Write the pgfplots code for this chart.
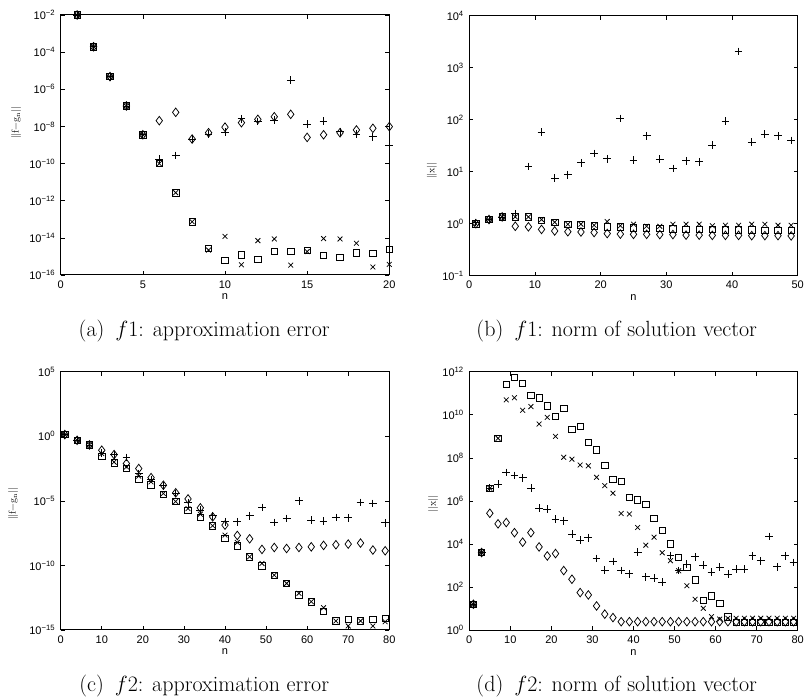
\RequirePackage{fix-cm}
\documentclass[border=0pt]{standalone}
\usepackage{fontspec}
\usepackage{pgfplots}
\pgfplotsset{compat=1.18}
\newfontfamily\arial{Liberation Sans}
\newcommand\tickfont{\arial\fontsize{11}{13}\selectfont}
\newcommand\tp[1]{10\textsuperscript{#1}}

\pgfplotsset{
  every axis/.append style={
    scale only axis, clip=false,
    axis line style={line width=1pt},
    every tick/.style={black, line width=0.6pt},
    major tick length=4pt,
    yminorticks=false, xminorticks=false,
    tick label style={font=\tickfont},
    xticklabel shift=2pt, yticklabel shift=2pt,
    label style={font=\tickfont},
    xlabel={n},
  },
  every axis x label/.style={at={(axis description cs:0.5,0)}, anchor=base, yshift=-25pt},
  markdiam/.style={only marks, black, mark=diamond, mark size=4.3pt, mark options={line width=0.75pt, solid, fill=none}},
  markplus/.style={only marks, black, mark=+, mark size=3.9pt, mark options={line width=0.75pt, solid}},
  markcross/.style={only marks, black, mark=x, mark size=3.4pt, mark options={line width=0.75pt, solid}},
  marksquare/.style={only marks, black, mark=square, mark size=3.2pt, mark options={line width=0.75pt, solid, fill=none}},
}

\begin{document}
\begin{tikzpicture}
\useasboundingbox (0pt,0pt) rectangle (806pt,700pt);

% (a) f1: approximation error
\begin{axis}[ymode=log,
  at={(60.7pt,425pt)}, anchor=south west, width=328.6pt, height=260pt,
  xmin=0, xmax=20, ymin=1e-16, ymax=1e-2,
  xtick={0,5,10,15,20},
  ytick={1e-16,1e-14,1e-12,1e-10,1e-8,1e-6,1e-4,1e-2},
  yticklabels={\tp{−16},\tp{−14},\tp{−12},\tp{−10},\tp{−8},\tp{−6},\tp{−4},\tp{−2}},
  ylabel={||f−g\textsubscript{n}||},
  every axis y label/.style={at={(axis description cs:-0.136,0.585)}, rotate=90, anchor=center},
  /pgf/number format/assume math mode=true]
\addplot[markdiam] coordinates {(1,1e-2)(2,1.95e-4)(3,4.79e-6)(4,1.26e-7)(5,3.55e-9)
  (6,2.04e-8)(7,5.75e-8)(8,2.09e-9)(9,4.57e-9)(10,9.12e-9)(11,1.58e-8)(12,2.40e-8)
  (13,3.31e-8)(14,4.47e-8)(15,2.57e-9)(16,3.55e-9)(17,4.57e-9)(18,6.46e-9)(19,7.94e-9)(20,9.77e-9)};
\addplot[markplus] coordinates {(1,1e-2)(2,1.95e-4)(3,4.79e-6)(4,1.26e-7)(5,3.55e-9)
  (6,1.70e-10)(7,2.75e-10)(8,2.09e-9)(9,3.89e-9)(10,5.01e-9)(11,2.57e-8)(12,1.86e-8)
  (13,2.19e-8)(14,3.02e-6)(15,1.29e-8)(16,1.95e-8)(17,5.25e-9)(18,3.89e-9)(19,2.82e-9)(20,9.55e-10)};
\addplot[markcross] coordinates {(1,1e-2)(2,1.95e-4)(3,4.79e-6)(4,1.26e-7)(5,3.55e-9)
  (6,1.0e-10)(7,2.69e-12)(8,7.41e-14)(9,2.19e-15)(10,1.20e-14)(11,3.55e-16)(12,7.08e-15)
  (13,8.71e-15)(14,3.39e-16)(15,1.82e-15)(16,9.12e-15)(17,8.71e-15)(18,5.13e-15)(19,2.69e-16)(20,3.72e-16)};
\addplot[marksquare] coordinates {(1,1e-2)(2,1.95e-4)(3,4.79e-6)(4,1.26e-7)(5,3.55e-9)
  (6,1.0e-10)(7,2.69e-12)(8,7.41e-14)(9,2.69e-15)(10,6.03e-16)(11,1.20e-15)(12,7.08e-16)
  (13,1.86e-15)(14,1.82e-15)(15,2.04e-15)(16,1.15e-15)(17,8.91e-16)(18,1.58e-15)(19,1.45e-15)(20,2.34e-15)};
\end{axis}

% (b) f1: norm of solution vector
\begin{axis}[ymode=log,
  at={(469.3pt,424.3pt)}, anchor=south west, width=328.4pt, height=260pt,
  xmin=0, xmax=50, ymin=1e-1, ymax=1e4,
  xtick={0,10,20,30,40,50},
  ytick={1e-1,1,1e1,1e2,1e3,1e4},
  yticklabels={\tp{−1},\tp{0},\tp{1},\tp{2},\tp{3},\tp{4}},
  ylabel={||x||},
  every axis y label/.style={at={(axis description cs:-0.1136,0.404)}, rotate=90, anchor=center},
  /pgf/number format/assume math mode=true]
\addplot[markdiam] coordinates {(1,1.0)(3,1.20)(5,1.35)(7,0.891)(9,0.871)(11,0.776)(13,0.724)
  (15,0.700)(17,0.692)(19,0.676)(21,0.646)(23,0.631)(25,0.624)(27,0.624)(29,0.617)
  (31,0.617)(33,0.603)(35,0.603)(37,0.596)(39,0.596)(41,0.596)(43,0.589)(45,0.589)(47,0.589)(49,0.582)};
\addplot[markplus] coordinates {(1,1.05)(3,1.20)(5,1.35)(7,1.55)(9,12.6)(11,57.5)(13,7.59)
  (15,8.71)(17,14.8)(19,22.4)(21,17.8)(23,105)(25,16.6)(27,49.0)(29,17.4)
  (31,11.5)(33,16.2)(35,15.5)(37,32.4)(39,93.3)(41,2040)(43,37.2)(45,52.5)(47,49.0)(49,39.8)};
\addplot[markcross] coordinates {(1,1.0)(3,1.20)(5,1.35)(7,1.35)(9,1.35)(11,1.20)(13,1.07)
  (15,0.977)(17,0.977)(19,0.933)(21,1.10)(23,0.912)(25,0.977)(27,0.891)(29,0.891)
  (31,0.977)(33,0.977)(35,0.977)(37,0.912)(39,0.933)(41,0.933)(43,0.977)(45,0.977)(47,0.933)(49,0.933)};
\addplot[marksquare] coordinates {(1,1.0)(3,1.20)(5,1.35)(7,1.35)(9,1.35)(11,1.17)(13,1.05)
  (15,0.977)(17,0.955)(19,0.912)(21,0.871)(23,0.871)(25,0.832)(27,0.832)(29,0.813)
  (31,0.794)(33,0.776)(35,0.776)(37,0.776)(39,0.759)(41,0.759)(43,0.759)(45,0.741)(47,0.741)(49,0.741)};
\end{axis}

% (c) f2: approximation error
\begin{axis}[ymode=log,
  at={(60.7pt,70pt)}, anchor=south west, width=328.6pt, height=258.3pt,
  xmin=0, xmax=80, ymin=1e-15, ymax=1e5,
  xtick={0,10,20,30,40,50,60,70,80},
  ytick={1e-15,1e-10,1e-5,1,1e5},
  yticklabels={\tp{−15},\tp{−10},\tp{−5},\tp{0},\tp{5}},
  ylabel={||f−g\textsubscript{n}||},
  every axis y label/.style={at={(axis description cs:-0.145,0.488)}, rotate=90, anchor=center},
  /pgf/number format/assume math mode=true]
\addplot[markdiam] coordinates {(1,1.35)(4,0.490)(7,0.214)(10,8.32e-2)(13,3.80e-2)(16,7.76e-3)
  (19,3.16e-3)(22,6.31e-4)(25,1.62e-4)(28,4.17e-5)(31,1.41e-5)(34,2.88e-6)(37,5.75e-7)
  (40,1.32e-7)(43,2.09e-8)(46,1.15e-8)(49,1.74e-9)(52,2.45e-9)(55,2.04e-9)(58,2.45e-9)
  (61,2.75e-9)(64,3.55e-9)(67,3.98e-9)(70,4.47e-9)(73,5.37e-9)(76,1.55e-9)(79,1.35e-9)};
\addplot[markplus] coordinates {(1,1.35)(4,0.490)(7,0.214)(10,5.13e-2)(13,3.63e-2)(16,2.24e-2)
  (19,1.29e-3)(22,4.47e-4)(25,1.45e-4)(28,3.72e-5)(31,7.08e-6)(34,1.91e-6)(37,6.92e-7)
  (40,2.40e-7)(43,2.40e-7)(46,6.92e-7)(49,3.02e-6)(52,2.09e-7)(55,4.27e-7)(58,1.0e-5)
  (61,3.24e-7)(64,2.69e-7)(67,5.13e-7)(70,4.90e-7)(73,7.41e-6)(76,6.17e-6)(79,2.00e-7)};
\addplot[markcross] coordinates {(1,1.35)(4,0.490)(7,0.214)(10,4.57e-2)(13,1.0e-2)(16,4.27e-3)
  (19,8.13e-4)(22,2.95e-4)(25,3.72e-5)(28,8.91e-6)(31,2.51e-6)(34,9.33e-7)(37,1.17e-7)
  (40,2.24e-8)(43,6.03e-9)(46,4.68e-10)(49,1.41e-10)(52,1.78e-11)(55,4.07e-12)(58,6.92e-13)
  (61,1.55e-13)(64,5.37e-14)(67,5.01e-15)(70,2.04e-15)(73,5.01e-15)(76,2.04e-15)(79,4.37e-15)};
\addplot[marksquare] coordinates {(1,1.35)(4,0.490)(7,0.214)(10,2.82e-2)(13,8.71e-3)(16,3.16e-3)
  (19,4.47e-4)(22,1.74e-4)(25,3.09e-5)(28,8.91e-6)(31,1.91e-6)(34,5.13e-7)(37,1.17e-7)
  (40,1.23e-8)(43,3.31e-9)(46,4.68e-10)(49,9.33e-11)(52,1.78e-11)(55,4.07e-12)(58,5.37e-13)
  (61,1.55e-13)(64,2.63e-14)(67,5.01e-15)(70,6.61e-15)(73,5.01e-15)(76,6.61e-15)(79,7.94e-15)};
\end{axis}

% (d) f2: norm of solution vector
\begin{axis}[ymode=log,
  at={(469.3pt,69.7pt)}, anchor=south west, width=328.4pt, height=258.6pt,
  xmin=0, xmax=80, ymin=1, ymax=1e12,
  xtick={0,10,20,30,40,50,60,70,80},
  ytick={1,1e2,1e4,1e6,1e8,1e10,1e12},
  yticklabels={\tp{0},\tp{2},\tp{4},\tp{6},\tp{8},\tp{10},\tp{12}},
  ylabel={||x||},
  every axis y label/.style={at={(axis description cs:-0.11,0.488)}, rotate=90, anchor=center},
  /pgf/number format/assume math mode=true]
\addplot[markdiam] coordinates {(1,16.2)(3,4070)(5,2.69e5)(7,8.71e4)(9,1.0e5)(11,3.39e4)(13,1.23e4)
  (15,3.39e4)(17,7.41e3)(19,2.82e3)(21,3.63e3)(23,589)(25,234)(27,56.2)(29,43.7)(31,13.5)
  (33,5.62)(35,3.89)(37,2.51)(39,2.51)(41,2.51)(43,2.51)(45,2.51)(47,2.51)(49,2.51)(51,2.51)
  (53,2.51)(55,2.51)(57,2.51)(59,2.51)(61,2.51)(63,2.51)(65,2.51)(67,2.51)(69,2.51)(71,2.51)
  (73,2.51)(75,2.51)(77,2.51)(79,2.51)};
\addplot[markplus] coordinates {(1,16.2)(3,4070)(5,3.89e6)(7,6.03e6)(9,2.09e7)(11,1.51e7)(13,1.20e7)
  (15,3.89e6)(17,4.57e5)(19,4.17e5)(21,1.41e5)(23,1.23e5)(25,2.88e4)(27,1.55e4)(29,2.00e4)
  (31,2.14e3)(33,631)(35,1.55e3)(37,589)(39,417)(41,4.17e3)(43,302)(45,257)(47,170)
  (49,2.95e3)(51,589)(53,1.17e3)(55,2.57e3)(57,1.07e3)(59,490)(61,832)(63,398)(65,676)
  (67,676)(69,2.88e3)(71,1.70e3)(73,2.24e4)(75,891)(77,2.88e3)(79,1.41e3)};
\addplot[markcross] coordinates {(1,16.2)(3,4070)(5,3.89e6)(7,8.13e8)(9,4.90e10)(11,6.17e10)(13,1.62e10)
  (15,2.40e10)(17,3.72e9)(19,7.59e9)(21,1.0e9)(23,1.07e8)(25,8.71e7)(27,4.68e7)(29,4.27e7)
  (31,1.26e7)(33,5.13e6)(35,2.29e6)(37,2.63e5)(39,2.51e5)(41,5.89e4)(43,8.91e3)(45,2.09e4)
  (47,3.98e3)(49,1.70e3)(51,575)(53,117)(55,27.5)(57,10.5)(59,4.27)(61,3.31)(63,3.63)
  (65,3.63)(67,3.63)(69,3.63)(71,3.63)(73,3.63)(75,3.63)(77,3.63)(79,3.63)};
\addplot[marksquare] coordinates {(1,16.2)(3,4070)(5,3.89e6)(7,8.13e8)(9,2.57e11)(11,5.62e11)(13,2.95e11)
  (15,7.76e10)(17,6.17e10)(19,2.63e10)(21,8.71e9)(23,2.00e10)(25,2.14e9)(27,2.95e9)(29,5.13e8)
  (31,2.34e8)(33,4.57e7)(35,1.02e7)(37,8.13e6)(39,1.48e6)(41,1.12e6)(43,6.76e5)(45,1.58e5)
  (47,4.37e4)(49,1.02e4)(51,2.40e3)(53,832)(55,214)(57,25.1)(59,38.9)(61,17.8)(63,4.27)
  (65,2.29)(67,2.29)(69,2.29)(71,2.29)(73,2.29)(75,2.29)(77,2.29)(79,2.29)};
\end{axis}

% sub-figure captions
\begin{scope}[every node/.style={anchor=base, inner sep=0pt, font=\fontsize{22}{26}\selectfont}]
\node at (204.2pt,363.3pt) {(a)\enspace$f1$: approximation error};
\node at (616.7pt,363.3pt) {(b)\enspace$f1$: norm of solution vector};
\node at (204.2pt,8.3pt) {(c)\enspace$f2$: approximation error};
\node at (616.7pt,8.3pt) {(d)\enspace$f2$: norm of solution vector};
\end{scope}
\end{tikzpicture}
\end{document}
